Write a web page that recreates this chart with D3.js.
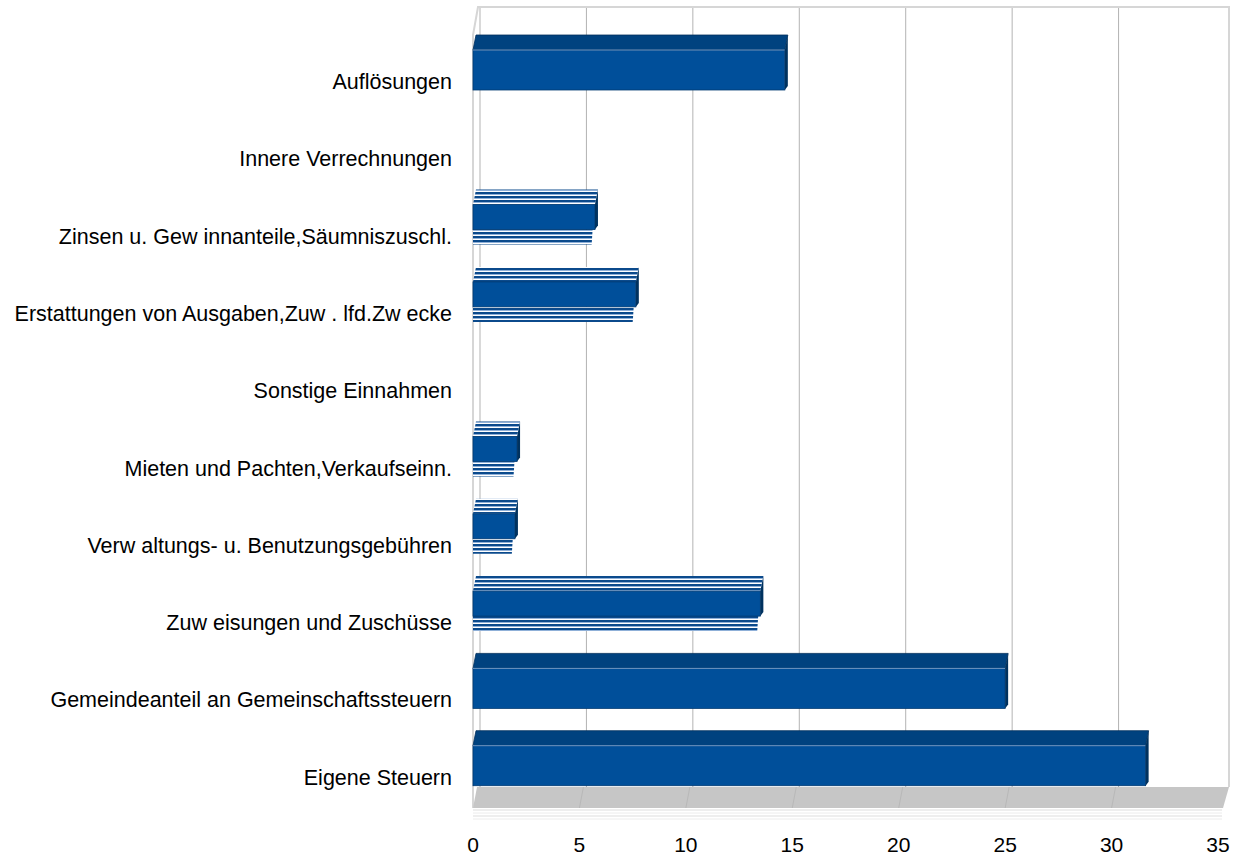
<!DOCTYPE html>
<html lang="de">
<head>
  <meta charset="UTF-8" />
  <title>Einnahmen</title>
  <script src="https://d3js.org/d3.v7.min.js"></script>
  <style>
    body { margin: 0; background: #fff; }
    text { font-family: "Liberation Sans", Arial, sans-serif; fill: #000; }
  </style>
</head>
<body>
  <svg id="chart" width="1243" height="860"></svg>

  <script>
    // categories top to bottom
    const categories = [
      "Auflösungen",
      "Innere Verrechnungen",
      "Zinsen u. Gew innanteile,Säumniszuschl.",
      "Erstattungen von Ausgaben,Zuw . lfd.Zw ecke",
      "Sonstige Einnahmen",
      "Mieten und Pachten,Verkaufseinn.",
      "Verw altungs- u. Benutzungsgebühren",
      "Zuw eisungen und Zuschüsse",
      "Gemeindeanteil an Gemeinschaftssteuern",
      "Eigene Steuern"
    ];
    // solid series and striped series (null = not drawn)
    const seriesA = [14.65, 0, 5.73, 7.65, 0, 2.07, 1.97, 13.5, 25.0, 31.6];
    const seriesB = [null, null, 5.62, 7.55, null, 1.95, 1.87, 13.4, null, null];
    const xTicks = [0, 5, 10, 15, 20, 25, 30, 35];

    const svg = d3.select("#chart");

    const x = d3.scaleLinear().domain([0, 35]).range([473, 1218]);
    const y = d3.scaleBand().domain(categories).range([35, 808]).padding(0);

    const depthX = 7, depthY = 21;   // wall depth
    const barDx = 3, barDy = 15;     // bar top face
    const barH = 55;
    const floorFront = 808, floorBack = floorFront - depthY;

    const defs = svg.append("defs");
    const pat = defs.append("pattern")
      .attr("id", "stripes")
      .attr("patternUnits", "userSpaceOnUse")
      .attr("width", 8).attr("height", 4);
    pat.append("rect").attr("width", 8).attr("height", 4).attr("fill", "#ffffff");
    pat.append("rect").attr("width", 8).attr("height", 2).attr("fill", "#0b4a8c");
    pat.append("rect").attr("y", 2).attr("width", 8).attr("height", 1).attr("fill", "#8fb0d8");

    // back wall
    svg.append("path")
      .attr("d", `M${x(0)},${floorFront} L${x(0)},${7 + depthY + 7} L${x(0) + depthX - 2},7 L${x(35) + depthX + 4},7 L${x(35) + depthX + 4},${floorBack}`)
      .attr("fill", "none")
      .attr("stroke", "#d6d6d6")
      .attr("stroke-width", 2);

    // gridlines on the back wall
    svg.selectAll(".grid")
      .data(xTicks.slice(0, -1))
      .enter()
      .append("line")
      .attr("class", "grid")
      .attr("x1", d => x(d) + depthX)
      .attr("x2", d => x(d) + depthX)
      .attr("y1", 8)
      .attr("y2", floorBack)
      .attr("stroke", "#b3b3b3")
      .attr("stroke-width", 1);

    // floor
    svg.append("polygon")
      .attr("points", [
        [x(0), floorFront], [x(0) + 4, floorBack],
        [x(35) + depthX + 4, floorBack], [x(35) + 5, floorFront]
      ].join(" "))
      .attr("fill", "#c6c6c6");
    svg.selectAll(".floorgrid")
      .data(xTicks.slice(1, -1))
      .enter()
      .append("line")
      .attr("x1", d => x(d))
      .attr("y1", floorFront)
      .attr("x2", d => x(d) + 4)
      .attr("y2", floorBack)
      .attr("stroke", "#b8b8b8")
      .attr("stroke-width", 1);
    [810, 813, 816, 819].forEach((yy, i) => {
      svg.append("line")
        .attr("x1", x(0)).attr("x2", x(35) + 4)
        .attr("y1", yy).attr("y2", yy)
        .attr("stroke", i % 2 ? "#ececec" : "#dddddd");
    });

    // bars
    const rows = categories.map((c, i) => ({ cat: c, a: seriesA[i], b: seriesB[i] }));
    const g = svg.selectAll(".bar")
      .data(rows.filter(d => d.a > 0))
      .enter()
      .append("g")
      .attr("class", "bar");

    g.each(function (d) {
      const sel = d3.select(this);
      const t = y(d.cat);
      const x0 = x(0), x1 = x(d.a);
      const split = d.b !== null;
      const frontTop = t + barDy;
      const solidBottom = split ? t + 40 : t + barH;

      // striped series below
      if (split) {
        const xb = x(d.b);
        sel.append("polygon")
          .attr("points", [[x0, t + 40], [xb, t + 40], [xb - 1, t + barH], [x0, t + barH]].join(" "))
          .attr("fill", "url(#stripes)");
      }

      // top face
      sel.append("polygon")
        .attr("points", [[x0, frontTop], [x0 + barDx, t], [x1 + barDx, t], [x1, frontTop]].join(" "))
        .attr("fill", split ? "url(#stripes)" : "#00427f")
        .attr("stroke", split ? "none" : "#002f5c")
        .attr("stroke-width", 0.8);

      // front face
      sel.append("rect")
        .attr("x", x0)
        .attr("y", frontTop)
        .attr("width", x1 - x0)
        .attr("height", solidBottom - frontTop)
        .attr("fill", "#004f9a")
        .attr("stroke", "#003a72")
        .attr("stroke-width", 0.8);

      // light edge between top and front
      if (!split) {
        sel.append("line")
          .attr("x1", x0).attr("x2", x1)
          .attr("y1", frontTop).attr("y2", frontTop)
          .attr("stroke", "#8fb0d8")
          .attr("stroke-width", 0.8);
      }

      // right side
      sel.append("polygon")
        .attr("points", [[x1, frontTop], [x1 + barDx, t], [x1 + barDx, solidBottom - 4], [x1, solidBottom]].join(" "))
        .attr("fill", "#00325f");
    });

    // category labels
    svg.selectAll(".cat")
      .data(categories)
      .enter()
      .append("text")
      .attr("class", "cat")
      .attr("x", 452)
      .attr("y", d => y(d) + 47 + 7)
      .attr("text-anchor", "end")
      .attr("font-size", 21.5)
      .text(d => d);

    // x tick labels
    svg.selectAll(".tick")
      .data(xTicks)
      .enter()
      .append("text")
      .attr("class", "tick")
      .attr("x", d => x(d))
      .attr("y", 852)
      .attr("text-anchor", "middle")
      .attr("font-size", 21)
      .text(d => d);
  </script>
</body>
</html>
